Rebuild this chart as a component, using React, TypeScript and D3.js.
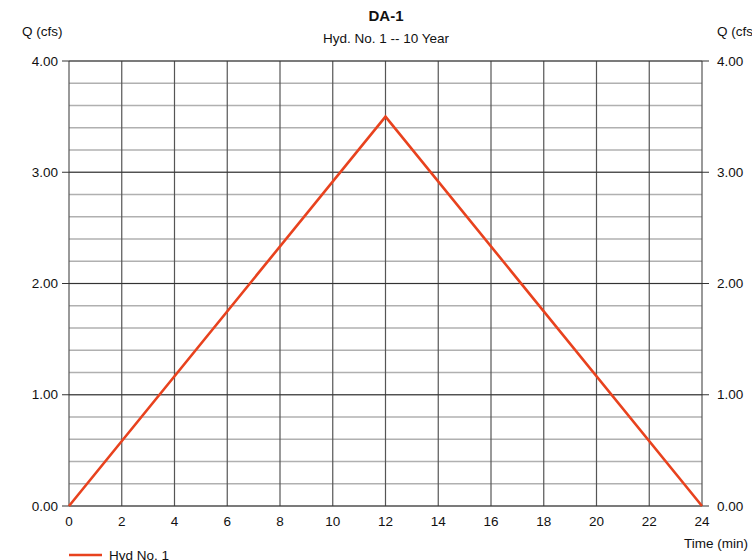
import React from "react";
import * as d3 from "d3";

const timeMin = [0, 12, 24];
const flowCfs = [0, 3.5, 0];
const xTicks = [0, 2, 4, 6, 8, 10, 12, 14, 16, 18, 20, 22, 24];
const yMajor = [0, 1, 2, 3, 4];
const yMinor = d3.range(0, 4.0001, 0.2);

const W = 752, H = 560;
const L = 69, R = 702, T = 61, B = 506;
const FONT = "'Liberation Sans', Arial, sans-serif";
const FS = 13.5;

export default function App() {
  const x = d3.scaleLinear().domain([0, 24]).range([L, R]);
  const y = d3.scaleLinear().domain([0, 4]).range([B, T]);
  const line = d3.line<number>().x((_, i) => x(timeMin[i])).y((d) => y(d));
  return (
    <svg width={W} height={H} style={{ position: "absolute", left: 0, top: 0 }} fontFamily={FONT}>
      <rect width={W} height={H} fill="#fff" />
      {yMinor.map((v, i) => (
        <line key={"m" + i} x1={L} x2={R} y1={y(v)} y2={y(v)} stroke="#b0b0b0" strokeWidth={1.5} />
      ))}
      {xTicks.map((v) => (
        <line key={"v" + v} x1={x(v)} x2={x(v)} y1={T} y2={B} stroke="#555" strokeWidth={1.2} />
      ))}
      {yMajor.map((v) => (
        <g key={"M" + v}>
          <line x1={L - 7} x2={R + 7} y1={y(v)} y2={y(v)} stroke="#333" strokeWidth={1.2} />
          <text x={L - 11} y={y(v)} dy="0.35em" textAnchor="end" fontSize={FS} fill="#111">{v.toFixed(2)}</text>
          <text x={R + 15} y={y(v)} dy="0.35em" textAnchor="start" fontSize={FS} fill="#111">{v.toFixed(2)}</text>
        </g>
      ))}
      {xTicks.map((v) => (
        <text key={"xt" + v} x={x(v)} y={B + 20} textAnchor="middle" fontSize={FS} fill="#111">{v}</text>
      ))}
      <path d={line(flowCfs) || ""} fill="none" stroke="#e8421e" strokeWidth={2.6} />
      <text x={386} y={21} textAnchor="middle" fontSize={15} fontWeight="bold" fill="#111">DA-1</text>
      <text x={386} y={43} textAnchor="middle" fontSize={FS} fill="#111">Hyd. No. 1 -- 10 Year</text>
      <text x={22} y={36} fontSize={FS} fill="#111">Q (cfs)</text>
      <text x={717} y={36} fontSize={FS} fill="#111">Q (cfs)</text>
      <text x={748} y={548} textAnchor="end" fontSize={FS} fill="#111">Time (min)</text>
      <line x1={69} x2={102} y1={555} y2={555} stroke="#e8421e" strokeWidth={2.6} />
      <text x={109} y={560} fontSize={FS} fill="#111">Hyd No. 1</text>
    </svg>
  );
}
